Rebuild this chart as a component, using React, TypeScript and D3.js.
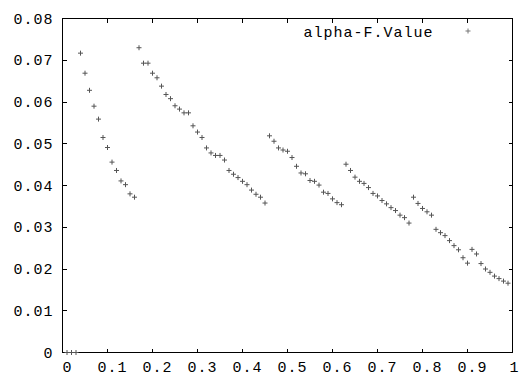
import React, { useEffect, useRef } from "react";
import * as d3 from "d3";

// x positions of the samples (0.01 .. 0.99)
const xValues: number[] = d3.range(1, 100).map((k) => k / 100);

// alpha-F.Value, one per x above
const alphaFValues: number[] = [
    0, 0, 0,
    0.0717, 0.0669, 0.0628, 0.059, 0.0559, 0.0515, 0.0491, 0.0456, 0.0436, 0.0411, 0.0402, 0.038, 0.0372,
    0.073, 0.0693, 0.0693, 0.0669, 0.0658, 0.0638, 0.0618, 0.0608, 0.0591, 0.0583, 0.0574, 0.0574,
    0.0543, 0.0528, 0.0515, 0.049, 0.0478, 0.0472, 0.0472, 0.0461, 0.0436, 0.0427, 0.0419, 0.041,
    0.0402, 0.0389, 0.0379, 0.0372, 0.0358,
    0.0519, 0.0506, 0.049, 0.0485, 0.0482, 0.0467, 0.0446, 0.043, 0.0428, 0.0412, 0.041, 0.0401,
    0.0384, 0.0381, 0.0368, 0.0359, 0.0354,
    0.0451, 0.0436, 0.042, 0.041, 0.0405, 0.0395, 0.0381, 0.0375, 0.0364, 0.0356, 0.0347, 0.034,
    0.0329, 0.0323, 0.031,
    0.0372, 0.0357, 0.0345, 0.0337, 0.0329, 0.0295, 0.0287, 0.028, 0.0268, 0.0256, 0.0246, 0.0227, 0.0214,
    0.0247, 0.0236, 0.0213, 0.02, 0.0192, 0.0183, 0.0177, 0.0171, 0.0166,
];

const xTicks: number[] = [0, 0.1, 0.2, 0.3, 0.4, 0.5, 0.6, 0.7, 0.8, 0.9, 1];
const yTicks: number[] = [0, 0.01, 0.02, 0.03, 0.04, 0.05, 0.06, 0.07, 0.08];
const seriesName = "alpha-F.Value";

const width = 519;
const height = 376;

export default function App() {
    const svgRef = useRef<SVGSVGElement | null>(null);

    useEffect(() => {
        document.body.style.margin = "0";

        const margin = { top: 18, right: 7, bottom: 24, left: 62 };
        const innerWidth = width - margin.left - margin.right;
        const innerHeight = height - margin.top - margin.bottom;

        const svg = d3.select(svgRef.current);
        svg.selectAll("*").remove();

        const g = svg
            .append("g")
            .attr("transform", `translate(${margin.left + 0.5},${margin.top + 0.5})`);

        const x = d3.scaleLinear().domain([0, 1]).range([0, innerWidth]);
        const y = d3.scaleLinear().domain([0, 0.08]).range([innerHeight, 0]);

        const font = "'Liberation Mono', 'DejaVu Sans Mono', monospace";
        const fontSize = 15;
        const spacing = 1; // gnuplot's courier is a bit wider per char
        const tickLen = 4;
        const fmtY = (v: number) => (v === 0 ? "0" : v.toFixed(2));
        const fmtX = (v: number) => (v === 0 || v === 1 ? String(v) : v.toFixed(1));

        // frame
        g.append("rect")
            .attr("x", 0)
            .attr("y", 0)
            .attr("width", x(1))
            .attr("height", y(0))
            .attr("fill", "none")
            .attr("stroke", "#000")
            .attr("stroke-width", 1)
            .attr("shape-rendering", "crispEdges");

        // x ticks (bottom and mirrored on top)
        const xt = g.append("g").attr("shape-rendering", "crispEdges");
        xTicks.forEach((t) => {
            xt.append("line")
                .attr("x1", x(t)).attr("x2", x(t))
                .attr("y1", y(0)).attr("y2", y(0) - tickLen)
                .attr("stroke", "#000");
            xt.append("line")
                .attr("x1", x(t)).attr("x2", x(t))
                .attr("y1", 0).attr("y2", tickLen)
                .attr("stroke", "#000");
        });
        g.append("g")
            .selectAll("text")
            .data(xTicks)
            .join("text")
            .attr("x", (d) => x(d) + (d === 1 ? 2 : 5))
            .attr("y", y(0) + 19)
            .attr("text-anchor", "middle")
            .attr("font-family", font)
            .attr("font-size", fontSize)
            .attr("letter-spacing", spacing)
            .attr("fill", "#000")
            .text(fmtX);

        // y ticks (left and mirrored on right)
        const yt = g.append("g").attr("shape-rendering", "crispEdges");
        yTicks.forEach((t) => {
            yt.append("line")
                .attr("x1", 0).attr("x2", tickLen)
                .attr("y1", y(t)).attr("y2", y(t))
                .attr("stroke", "#000");
            yt.append("line")
                .attr("x1", x(1)).attr("x2", x(1) - tickLen)
                .attr("y1", y(t)).attr("y2", y(t))
                .attr("stroke", "#000");
        });
        g.append("g")
            .selectAll("text")
            .data(yTicks)
            .join("text")
            .attr("x", -9)
            .attr("y", (d) => y(d) + 5)
            .attr("text-anchor", "end")
            .attr("font-family", font)
            .attr("font-size", fontSize)
            .attr("letter-spacing", spacing)
            .attr("fill", "#000")
            .text(fmtY);

        // points as "+" marks
        const cross = (cx: number, cy: number, s: number) =>
            `M${cx - s},${cy}H${cx + s}M${cx},${cy - s}V${cy + s}`;

        g.append("path")
            .attr("d", xValues.map((v, i) => cross(x(v), y(alphaFValues[i]), 2.5)).join(""))
            .attr("fill", "none")
            .attr("stroke", "#555")
            .attr("stroke-width", 1);

        // legend
        g.append("text")
            .attr("x", 241)
            .attr("y", 18)
            .attr("font-family", font)
            .attr("font-size", fontSize)
            .attr("letter-spacing", spacing)
            .attr("fill", "#000")
            .text(seriesName);
        g.append("path")
            .attr("d", cross(405.5, 12.5, 2.5))
            .attr("fill", "none")
            .attr("stroke", "#777")
            .attr("stroke-width", 1);
    }, []);

    return <svg ref={svgRef} width={width} height={height} style={{ display: "block" }} />;
}
